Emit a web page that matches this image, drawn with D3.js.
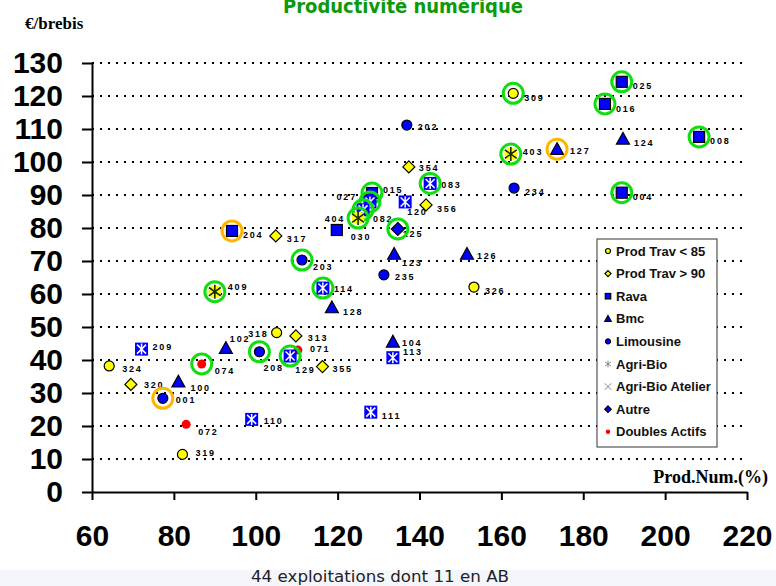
<!DOCTYPE html>
<html>
<head>
    <meta charset="utf-8">
    <title>Productivité numérique</title>
    <script src="https://d3js.org/d3.v7.min.js"></script>
    <style>
        body { margin: 0; background: #fff; }
        svg { display: block; }
    </style>
</head>
<body>
    <div id="chart"></div>

    <script>
        // Farm codes, productivity (%), margin (€/ewe), group and highlight ring
        var ids = ["025","016","309","202","124","008","127","403","354","234",
                   "004","083","015","027","082","404","030","120","356","125",
                   "204","317","203","123","126","235","326","409","114","128",
                   "318","313","102","209","071","208","129","104","113","355",
                   "074","324","320","100","001","110","111","072","319"];
        var prodNum = [189.4,185.3,162.9,136.9,189.7,208.3,173.6,162.3,137.4,163.1,
                       189.4,142.6,128.4,127.9,126.2,125.0,119.8,136.5,141.6,134.7,
                       94.2,104.9,111.3,133.8,151.6,131.3,153.3,90.0,116.4,118.6,
                       105.1,109.8,92.7,72.1,110.3,100.9,108.4,133.5,133.5,116.3,
                       86.8,64.2,69.5,81.1,77.3,99.0,128.1,83.0,82.1];
        var euroBrebis = [124.3,117.6,120.8,111.2,107.0,107.6,103.9,102.4,98.5,92.1,
                          90.7,93.5,90.6,87.9,85.5,83.0,79.4,87.9,87.0,79.7,
                          79.1,77.6,70.3,72.1,72.1,65.8,62.1,60.7,61.8,55.9,
                          48.3,47.3,43.6,43.3,43.0,42.5,41.2,45.5,40.7,38.0,
                          38.8,38.2,32.6,33.4,28.4,22.0,24.2,20.5,11.4];
        var groups = ["Rava","Rava","Prod Trav < 85","Limousine","Bmc","Rava","Bmc","Agri-Bio","Prod Trav > 90","Limousine",
                      "Rava","Agri-Bio Atelier","Rava","Agri-Bio Atelier","Agri-Bio Atelier","Agri-Bio","Rava","Agri-Bio Atelier","Prod Trav > 90","Autre",
                      "Rava","Prod Trav > 90","Limousine","Bmc","Bmc","Limousine","Prod Trav < 85","Agri-Bio","Agri-Bio Atelier","Bmc",
                      "Prod Trav < 85","Prod Trav > 90","Bmc","Agri-Bio Atelier","Doubles Actifs","Limousine","Agri-Bio Atelier","Bmc","Agri-Bio Atelier","Prod Trav > 90",
                      "Doubles Actifs","Prod Trav < 85","Prod Trav > 90","Bmc","Limousine","Agri-Bio Atelier","Agri-Bio Atelier","Doubles Actifs","Prod Trav < 85"];
        var rings = ["g","g","g","","","g","o","g","","",
                     "g","g","g","g","g","g","","","","g",
                     "o","","g","","","","","g","g","",
                     "","","","","","g","g","","","",
                     "g","","","","o","","","",""];

        var legendItems = ["Prod Trav < 85","Prod Trav > 90","Rava","Bmc","Limousine",
                           "Agri-Bio","Agri-Bio Atelier","Autre","Doubles Actifs"];
        var xTicks = [60, 80, 100, 120, 140, 160, 180, 200, 220];
        var yTicks = [0, 10, 20, 30, 40, 50, 60, 70, 80, 90, 100, 110, 120, 130];

        // label offsets for crowded points [dx, dy]; negative dx = label on the left
        var labelShift = {
            "015": [11,-3], "027": [-13,-5], "082": [10,9], "404": [-13,1], "120": [2,10],
            "125": [5,5], "083": [11,1], "203": [11,7], "123": [8,9], "126": [10,2],
            "235": [11,2], "409": [13,-5], "114": [11,1], "318": [-8,1], "102": [4,-9],
            "209": [11,-2], "071": [12,-1], "208": [4,16], "129": [5,14], "104": [9,1],
            "113": [10,-6], "074": [13,7], "320": [13,0], "100": [12,6], "072": [12,7],
            "319": [13,-2], "110": [12,1], "202": [11,2], "354": [10,1], "403": [12,-2],
            "127": [13,2], "317": [11,3], "313": [12,2], "355": [10,2], "324": [13,3],
            "001": [13,2], "016": [11,5], "030": [14,7]
        };

        var width = 776, height = 586;
        var svg = d3.select("#chart").append("svg")
            .attr("width", width)
            .attr("height", height);

        var x = d3.scaleLinear().domain([60, 220]).range([92, 747]);
        var y = d3.scaleLinear().domain([0, 130]).range([492, 63]);

        // caption band at the bottom
        svg.append("rect")
            .attr("x", 0).attr("y", 570)
            .attr("width", width).attr("height", 16)
            .attr("fill", "#f4f6fc");
        svg.append("text")
            .attr("x", 380).attr("y", 582)
            .attr("text-anchor", "middle")
            .attr("font-family", "DejaVu Sans, sans-serif")
            .attr("font-size", 15)
            .attr("textLength", 258)
            .attr("lengthAdjust", "spacingAndGlyphs")
            .attr("fill", "#222")
            .text("44  exploitations dont 11 en AB");

        // title, cut at the top edge as in the original slide
        svg.append("text")
            .attr("x", 403).attr("y", 13)
            .attr("text-anchor", "middle")
            .attr("font-family", "DejaVu Sans, sans-serif")
            .attr("font-weight", "bold")
            .attr("font-size", 19)
            .attr("textLength", 240)
            .attr("lengthAdjust", "spacingAndGlyphs")
            .attr("fill", "#0a9a0a")
            .text("Productivité numérique");

        svg.append("text")
            .attr("x", 25).attr("y", 29)
            .attr("font-family", "Liberation Serif, serif")
            .attr("font-weight", "bold")
            .attr("font-size", 17)
            .text("€/brebis");

        svg.append("text")
            .attr("x", 768).attr("y", 483)
            .attr("text-anchor", "end")
            .attr("font-family", "Liberation Serif, serif")
            .attr("font-weight", "bold")
            .attr("font-size", 18)
            .text("Prod.Num.(%)");

        // dotted gridlines
        svg.append("g").selectAll("line")
            .data(yTicks.filter(function(d) { return d > 0; }))
            .enter().append("line")
            .attr("x1", x(60)).attr("x2", x(220))
            .attr("y1", function(d) { return y(d); })
            .attr("y2", function(d) { return y(d); })
            .attr("stroke", "#000")
            .attr("stroke-width", 2)
            .attr("stroke-dasharray", "2,6");

        // axes
        var yAxis = svg.append("g")
            .attr("transform", "translate(" + x(60) + ",0)")
            .call(d3.axisLeft(y).tickValues(yTicks).tickSize(10).tickSizeOuter(0).tickPadding(19));
        var xAxis = svg.append("g")
            .attr("transform", "translate(0," + y(0) + ")")
            .call(d3.axisBottom(x).tickValues(xTicks).tickSize(8).tickSizeOuter(0).tickPadding(25));
        [xAxis, yAxis].forEach(function(a) {
            a.selectAll("path, line").attr("stroke", "#000").attr("stroke-width", 2);
            a.selectAll("text")
                .attr("font-family", "Liberation Sans, Arial, sans-serif")
                .attr("font-weight", "bold")
                .attr("font-size", 30)
                .attr("fill", "#000");
        });

        var data = ids.map(function(id, i) {
            return { id: id, px: prodNum[i], py: euroBrebis[i], group: groups[i], ring: rings[i] };
        });

        // point labels
        svg.append("g").selectAll("text")
            .data(data)
            .enter().append("text")
            .attr("x", function(d) { var s = labelShift[d.id] || [11, 4]; return x(d.px) + s[0]; })
            .attr("y", function(d) { var s = labelShift[d.id] || [11, 4]; return y(d.py) + s[1]; })
            .attr("dy", "0.35em")
            .attr("text-anchor", function(d) { var s = labelShift[d.id] || [11, 4]; return s[0] < 0 ? "end" : "start"; })
            .attr("font-family", "Liberation Sans, Arial, sans-serif")
            .attr("font-weight", "bold")
            .attr("font-size", 9)
            .attr("letter-spacing", 1.8)
            .attr("fill", "#000")
            .text(function(d) { return d.id; });

        // draws one marker of a group at (0,0), k = size factor
        function drawMarker(g, group, k) {
            var s;
            if (group === "Prod Trav < 85") {
                g.append("circle").attr("r", 5 * k).attr("fill", "#ffff00").attr("stroke", "#000").attr("stroke-width", 1.2);
            } else if (group === "Prod Trav > 90") {
                s = 6 * k;
                g.append("path").attr("d", "M0," + (-s) + "L" + s + ",0L0," + s + "L" + (-s) + ",0Z")
                    .attr("fill", "#ffff00").attr("stroke", "#000").attr("stroke-width", 1.2);
            } else if (group === "Rava") {
                s = 5.5 * k;
                g.append("rect").attr("x", -s).attr("y", -s).attr("width", 2 * s).attr("height", 2 * s)
                    .attr("fill", "#0000ff").attr("stroke", "#000").attr("stroke-width", 1.2);
            } else if (group === "Bmc") {
                s = 6.5 * k;
                g.append("path").attr("d", "M0," + (-s) + "L" + s + "," + (s * 0.8) + "L" + (-s) + "," + (s * 0.8) + "Z")
                    .attr("fill", "#0000ff").attr("stroke", "#000").attr("stroke-width", 1.2);
            } else if (group === "Limousine") {
                g.append("circle").attr("r", 5 * k).attr("fill", "#0000ff").attr("stroke", "#000").attr("stroke-width", 1.2);
            } else if (group === "Autre") {
                s = 6.5 * k;
                g.append("path").attr("d", "M0," + (-s) + "L" + s + ",0L0," + s + "L" + (-s) + ",0Z")
                    .attr("fill", "#0000ff").attr("stroke", "#000").attr("stroke-width", 1.2);
            } else if (group === "Doubles Actifs") {
                g.append("circle").attr("r", 4.5 * k).attr("fill", "#ff0000");
            } else if (group === "Agri-Bio") {
                s = 7 * k;
                if (k > 0.6) g.append("circle").attr("r", 6.5).attr("fill", "#ffff00");
                g.append("path")
                    .attr("d", "M0," + (-s) + "V" + s + "M" + (-s * 0.85) + "," + (-s * 0.6) + "L" + (s * 0.85) + "," + (s * 0.6) +
                               "M" + (-s * 0.85) + "," + (s * 0.6) + "L" + (s * 0.85) + "," + (-s * 0.6))
                    .attr("stroke", k > 0.6 ? "#1a2a00" : "#888").attr("stroke-width", k > 0.6 ? 1.6 : 1);
            } else if (group === "Agri-Bio Atelier") {
                s = 6.5 * k;
                if (k > 0.6) {
                    g.append("rect").attr("x", -s).attr("y", -s).attr("width", 2 * s).attr("height", 2 * s).attr("fill", "#0000ff");
                    g.append("path")
                        .attr("d", "M" + (-s + 2) + "," + (-s + 2) + "L" + (s - 2) + "," + (s - 2) + "M" + (-s + 2) + "," + (s - 2) + "L" + (s - 2) + "," + (-s + 2) +
                                   "M0," + (-s + 1) + "V" + (s - 1))
                        .attr("stroke", "#fff").attr("stroke-width", 1.5);
                } else {
                    g.append("path")
                        .attr("d", "M" + (-s) + "," + (-s) + "L" + s + "," + s + "M" + (-s) + "," + s + "L" + s + "," + (-s))
                        .attr("stroke", "#888").attr("stroke-width", 1);
                }
            }
        }

        // markers with their highlight rings
        var pts = svg.append("g").selectAll("g")
            .data(data)
            .enter().append("g")
            .attr("transform", function(d) { return "translate(" + x(d.px) + "," + y(d.py) + ")"; });
        pts.each(function(d) {
            var g = d3.select(this);
            drawMarker(g, d.group, 1);
            if (d.ring) {
                g.append("circle").attr("r", 10)
                    .attr("fill", "none")
                    .attr("stroke", d.ring === "g" ? "#11dd11" : "#ffb400")
                    .attr("stroke-width", 3);
            }
        });

        // legend
        var legend = svg.append("g").attr("transform", "translate(597,239)");
        legend.append("rect")
            .attr("width", 120).attr("height", 208)
            .attr("fill", "#fff")
            .attr("stroke", "#333")
            .attr("stroke-width", 1);
        var items = legend.selectAll("g.item")
            .data(legendItems)
            .enter().append("g")
            .attr("class", "item")
            .attr("transform", function(d, i) { return "translate(11," + (12 + i * 22.6) + ")"; });
        items.each(function(d) { drawMarker(d3.select(this), d, 0.5); });
        items.append("text")
            .attr("x", 8)
            .attr("dy", "0.36em")
            .attr("font-family", "Liberation Sans, Arial, sans-serif")
            .attr("font-weight", "bold")
            .attr("font-size", 13)
            .attr("fill", "#111")
            .text(function(d) { return d; });
    </script>
</body>
</html>
